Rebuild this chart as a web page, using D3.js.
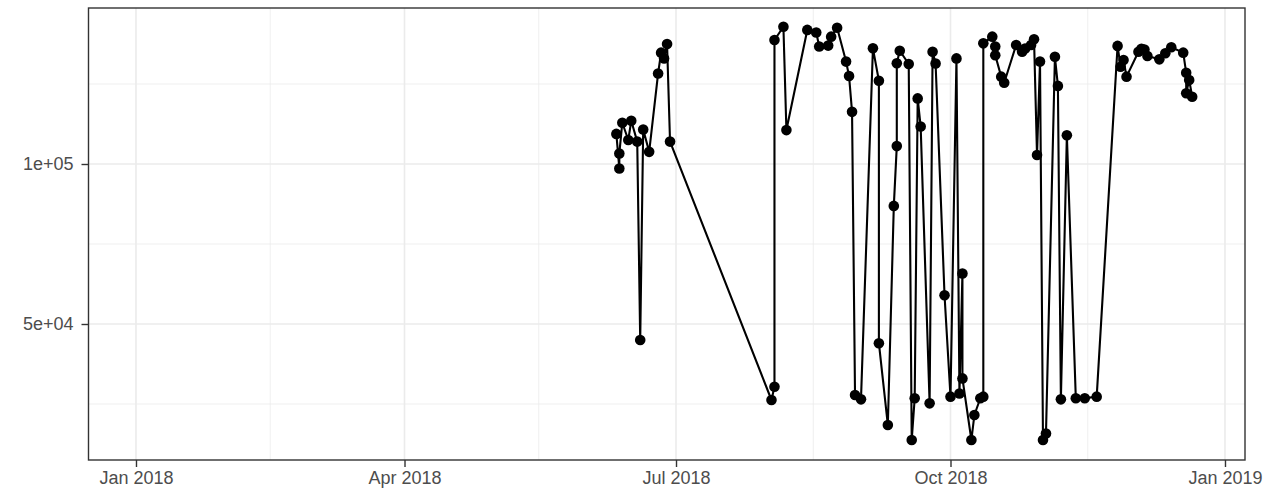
<!DOCTYPE html>
<html>
<head>
<meta charset="utf-8">
<script src="https://cdn.jsdelivr.net/npm/d3@7"></script>
<style>
  body { margin: 0; background: #ffffff; }
  svg { display: block; font-family: "Liberation Sans", Arial, sans-serif; }
  .grid-major { stroke: #ebebeb; stroke-width: 1.6; }
  .grid-minor { stroke: #ebebeb; stroke-width: 0.8; }
  .axis-text { fill: #4d4d4d; font-size: 18px; }
  .tick-line { stroke: #333333; stroke-width: 1.4; }
</style>
</head>
<body>
<div id="chart"></div>
<script>
// Données
const dates = [
  "2018-06-11", "2018-06-12", "2018-06-12", "2018-06-13", "2018-06-15", "2018-06-16",
  "2018-06-18", "2018-06-19", "2018-06-20", "2018-06-22", "2018-06-25", "2018-06-26",
  "2018-06-27", "2018-06-28", "2018-06-29",
  "2018-08-02", "2018-08-03", "2018-08-03", "2018-08-06", "2018-08-07", "2018-08-14",
  "2018-08-17", "2018-08-18", "2018-08-21", "2018-08-22", "2018-08-24", "2018-08-27",
  "2018-08-28", "2018-08-29", "2018-08-30", "2018-09-01", "2018-09-05", "2018-09-07",
  "2018-09-07", "2018-09-10", "2018-09-12", "2018-09-13", "2018-09-13", "2018-09-14",
  "2018-09-17", "2018-09-18", "2018-09-19", "2018-09-20", "2018-09-21", "2018-09-24",
  "2018-09-25", "2018-09-26", "2018-09-29", "2018-10-01", "2018-10-03", "2018-10-04",
  "2018-10-05", "2018-10-05", "2018-10-08", "2018-10-09", "2018-10-11", "2018-10-12",
  "2018-10-12", "2018-10-15", "2018-10-16", "2018-10-16", "2018-10-18", "2018-10-19",
  "2018-10-23", "2018-10-25", "2018-10-26", "2018-10-28", "2018-10-29", "2018-10-30",
  "2018-10-31", "2018-11-01", "2018-11-02", "2018-11-05", "2018-11-06", "2018-11-07",
  "2018-11-09", "2018-11-12", "2018-11-15", "2018-11-19", "2018-11-26", "2018-11-27",
  "2018-11-28", "2018-11-29", "2018-12-03", "2018-12-04", "2018-12-05", "2018-12-06",
  "2018-12-10", "2018-12-12", "2018-12-14", "2018-12-18", "2018-12-19", "2018-12-19",
  "2018-12-20", "2018-12-21"
];
const values = [
  109400, 98600, 103300, 112900, 107500, 113500,
  107000, 45000, 110800, 103800, 128300, 134800,
  133000, 137500, 107000,
  26250, 30400, 138750, 142900, 110600, 141900,
  141100, 136700, 137000, 139800, 142600, 132000,
  127500, 116300, 27800, 26450, 136150, 126000,
  44000, 18440, 86900, 105600, 131500, 135400,
  131250, 13750, 26800, 120500, 111700, 25200,
  135100, 131400, 59000, 27300, 133000, 28300,
  65800, 33000, 13750, 21560, 26800, 27300,
  137700, 139800, 136700, 134000, 127300, 125400,
  137200, 135100, 136100, 137200, 139000, 102800,
  132000, 13750, 15800, 133500, 124400, 26450,
  109000, 26800, 26800, 27300, 136900, 130400,
  132500, 127300, 135100, 136000, 135800, 133750,
  132700, 134600, 136500, 134800, 128500, 122100,
  126250, 121000
];

const xTickDates = ["2018-01-01", "2018-04-01", "2018-07-01", "2018-10-01", "2019-01-01"];
const xTickLabels = ["Jan 2018", "Apr 2018", "Jul 2018", "Oct 2018", "Jan 2019"];
const xMinorDates = ["2018-02-15", "2018-05-16", "2018-08-16", "2018-11-16"];
const yTickValues = [50000, 100000];
const yTickLabels = ["5e+04", "1e+05"];
const yMinorValues = [25000, 75000, 125000];

const width = 1272;
const height = 502;
const panel = { left: 88.5, right: 1245, top: 8, bottom: 460 };

const parseDate = d3.utcParse("%Y-%m-%d");
const data = dates.map((d, i) => ({ date: parseDate(d), value: values[i] }));

const xScale = d3.scaleUtc()
  .domain([new Date(Date.UTC(2017, 11, 16, 2)), new Date(Date.UTC(2019, 0, 7, 17))])
  .range([panel.left, panel.right]);

const yScale = d3.scaleLinear()
  .domain([7500, 148750])
  .range([panel.bottom, panel.top]);

const svg = d3.select("#chart")
  .append("svg")
    .attr("width", width)
    .attr("height", height);

svg.append("rect")
  .attr("x", panel.left).attr("y", panel.top)
  .attr("width", panel.right - panel.left)
  .attr("height", panel.bottom - panel.top)
  .attr("fill", "#ffffff");

// GRID
svg.selectAll(".grid-minor-x")
  .data(xMinorDates.map(parseDate))
  .enter().append("line")
    .attr("class", "grid-minor")
    .attr("x1", d => xScale(d)).attr("x2", d => xScale(d))
    .attr("y1", panel.top).attr("y2", panel.bottom);

svg.selectAll(".grid-minor-y")
  .data(yMinorValues)
  .enter().append("line")
    .attr("class", "grid-minor")
    .attr("x1", panel.left).attr("x2", panel.right)
    .attr("y1", d => yScale(d)).attr("y2", d => yScale(d));

svg.selectAll(".grid-major-x")
  .data(xTickDates.map(parseDate))
  .enter().append("line")
    .attr("class", "grid-major")
    .attr("x1", d => xScale(d)).attr("x2", d => xScale(d))
    .attr("y1", panel.top).attr("y2", panel.bottom);

svg.selectAll(".grid-major-y")
  .data(yTickValues)
  .enter().append("line")
    .attr("class", "grid-major")
    .attr("x1", panel.left).attr("x2", panel.right)
    .attr("y1", d => yScale(d)).attr("y2", d => yScale(d));

// LINE + POINTS
const line = d3.line()
  .x(d => xScale(d.date))
  .y(d => yScale(d.value));

svg.append("path")
  .datum(data)
  .attr("d", line)
  .attr("fill", "none")
  .attr("stroke", "#000000")
  .attr("stroke-width", 2.1)
  .attr("stroke-linejoin", "round");

svg.selectAll("circle.pt")
  .data(data)
  .enter().append("circle")
    .attr("class", "pt")
    .attr("cx", d => xScale(d.date))
    .attr("cy", d => yScale(d.value))
    .attr("r", 5.3)
    .attr("fill", "#000000");

// Panel border
svg.append("rect")
  .attr("x", panel.left).attr("y", panel.top)
  .attr("width", panel.right - panel.left)
  .attr("height", panel.bottom - panel.top)
  .attr("fill", "none")
  .attr("stroke", "#333333")
  .attr("stroke-width", 1.4);

// X-AXIS
const xAxis = svg.append("g")
  .attr("transform", `translate(0,${panel.bottom})`)
  .call(d3.axisBottom(xScale)
    .tickValues(xTickDates.map(parseDate))
    .tickFormat((d, i) => xTickLabels[i])
    .tickSizeOuter(0)
    .tickSizeInner(7)
    .tickPadding(4));
xAxis.select(".domain").remove();
xAxis.selectAll(".tick line").attr("class", "tick-line").attr("stroke", null);
xAxis.selectAll(".tick text").attr("class", "axis-text").attr("fill", null)
  .style("font-size", "18px").style("font-family", "Liberation Sans, Arial, sans-serif");

// Y-AXIS
const yAxis = svg.append("g")
  .attr("transform", `translate(${panel.left},0)`)
  .call(d3.axisLeft(yScale)
    .tickValues(yTickValues)
    .tickFormat((d, i) => yTickLabels[i])
    .tickSizeOuter(0)
    .tickSizeInner(7)
    .tickPadding(8));
yAxis.select(".domain").remove();
yAxis.selectAll(".tick line").attr("class", "tick-line").attr("stroke", null);
yAxis.selectAll(".tick text").attr("class", "axis-text").attr("fill", null)
  .style("font-size", "18px").style("font-family", "Liberation Sans, Arial, sans-serif");
</script>
</body>
</html>
